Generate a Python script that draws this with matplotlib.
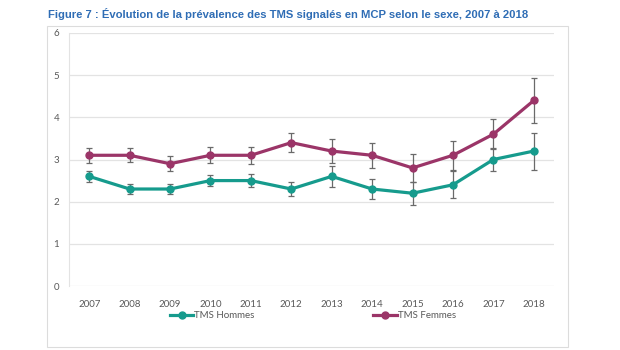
import matplotlib.pyplot as plt
from matplotlib.patches import Rectangle

# données
years = [2007, 2008, 2009, 2010, 2011, 2012, 2013, 2014, 2015, 2016, 2017, 2018]
hommes = [2.6, 2.3, 2.3, 2.5, 2.5, 2.3, 2.6, 2.3, 2.2, 2.4, 3.0, 3.2]
hommes_err = [0.13, 0.12, 0.13, 0.13, 0.15, 0.17, 0.25, 0.23, 0.27, 0.32, 0.28, 0.44]
femmes = [3.1, 3.1, 2.9, 3.1, 3.1, 3.4, 3.2, 3.1, 2.8, 3.1, 3.6, 4.4]
femmes_err = [0.18, 0.17, 0.18, 0.19, 0.2, 0.22, 0.29, 0.3, 0.33, 0.35, 0.35, 0.53]
labels = ['TMS Hommes', 'TMS Femmes']
title = "Figure 7 : Évolution de la prévalence des TMS signalés en MCP selon le sexe, 2007 à 2018"

TEAL = '#169b8d'
PLUM = '#9b3568'
GREY = '#595959'

fig = plt.figure(figsize=(6.2, 3.5), dpi=100)
W, H = 620, 350

# cadre du graphique
fig.patches.append(Rectangle((47 / W, 1 - 347 / H), 521 / W, 321 / H,
                             transform=fig.transFigure, fill=False,
                             edgecolor='#dcdcdc', linewidth=0.8))

fig.text(48 / W, 1 - 14 / H, title, color='#2f6db5', fontsize=8.15,
         fontweight='bold', family='Liberation Sans', va='center', ha='left')

ax = fig.add_axes([69 / W, 1 - 286 / H, 485 / W, 253 / H])
ax.set_xlim(2006.5, 2018.5)
ax.set_ylim(0, 6)
ax.set_yticks(range(7))
ax.set_xticks(years)
ax.grid(axis='y', color='#e3e3e3', linewidth=0.9)
ax.set_axisbelow(True)
for s in ['top', 'right', 'bottom']:
    ax.spines[s].set_visible(False)
ax.spines['left'].set_color('#e3e3e3')
ax.tick_params(length=0, labelsize=7, labelcolor=GREY)
ax.tick_params(axis='x', pad=10)
ax.tick_params(axis='y', pad=7)
for t in ax.get_xticklabels() + ax.get_yticklabels():
    t.set_family('Lato')

for vals, errs, col, lab in [(hommes, hommes_err, TEAL, labels[0]),
                             (femmes, femmes_err, PLUM, labels[1])]:
    ax.errorbar(years, vals, yerr=errs, fmt='none', ecolor='#6a6a6a',
                elinewidth=0.9, capsize=2.2, capthick=0.9, zorder=2)
    ax.plot(years, vals, color=col, linewidth=2.3, marker='o',
            markersize=5, label=lab, zorder=3)

leg = fig.legend(loc='center', bbox_to_anchor=(313 / W, 1 - 316 / H), ncol=2,
                 frameon=False, handlelength=2.4, handletextpad=0.1,
                 columnspacing=12.2, prop={'family': 'Lato', 'size': 7})
for t in leg.get_texts():
    t.set_color(GREY)

fig.savefig('out.png', dpi=100)
